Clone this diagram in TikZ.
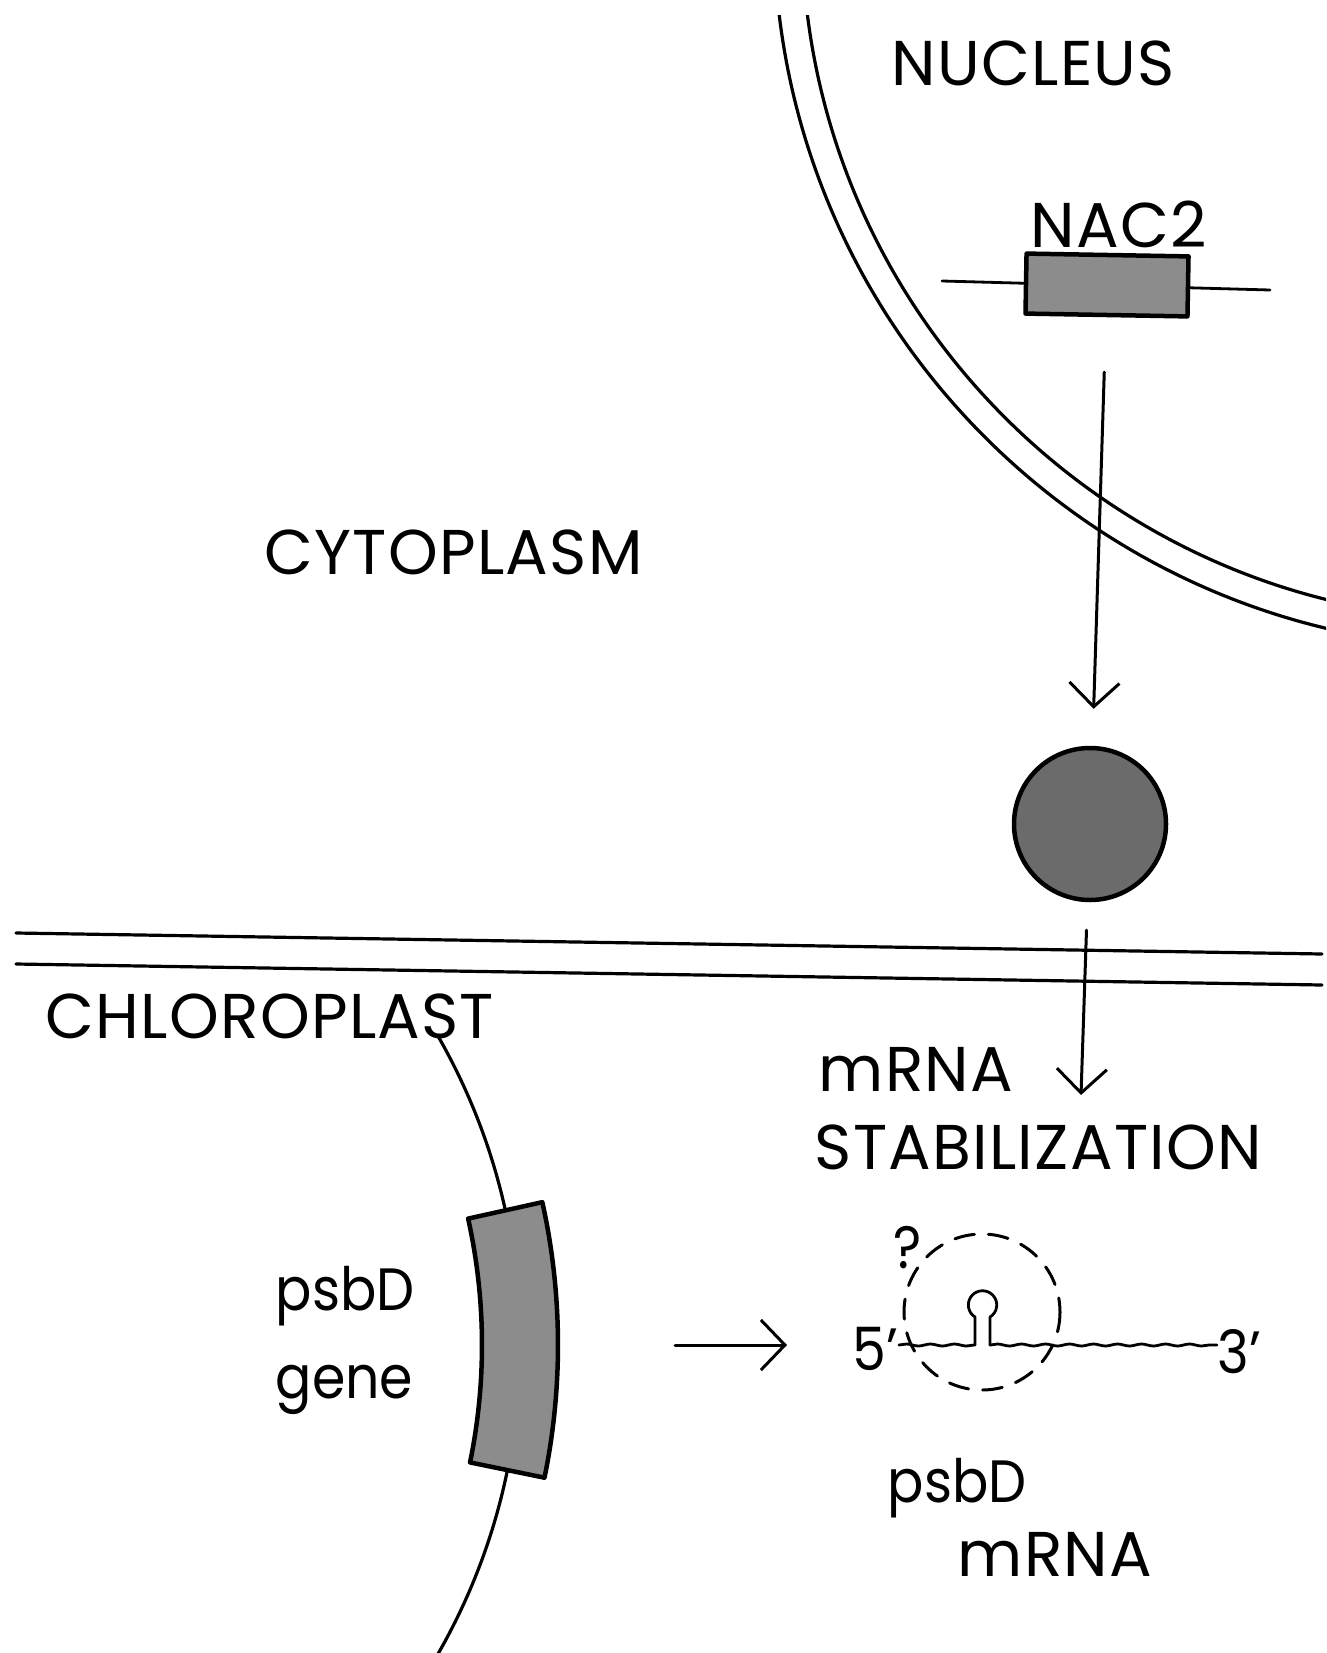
\documentclass[tikz,border=0pt]{standalone}
\usepackage{fontspec}
\setmainfont{Poppins}[FakeStretch=0.9]
\newfontfamily\capfont{Poppins}[LetterSpace=2]
\usetikzlibrary{arrows.meta,calc,decorations.pathmorphing}

\tikzset{
  lbl/.style={inner sep=0pt, anchor=base west, font=\capfont\fontsize{18}{20}\selectfont},
  sml/.style={inner sep=0pt, anchor=base west, font=\fontsize{17}{20}\selectfont},
  memb/.style={line width=0.32mm},
  genebox/.style={draw, line width=0.45mm, fill=black!45},
  arr/.style={line width=0.3mm, -{Straight Barb[length=2.4mm, width=5mm]}},
  rna/.style={line width=0.28mm, decorate, decoration={snake, amplitude=0.1mm, segment length=2.4mm}},
}

\begin{document}
\begin{tikzpicture}[x=0.1mm, y=-0.1mm, line cap=round, line join=round]
    \useasboundingbox (0,0) rectangle (1326,1653);

    % Nucleus envelope
    \coordinate (nuc) at (1494,-72);
    \begin{scope}
        \clip (0,16) rectangle (1326,1653);
        \draw[memb] (nuc) circle (720);
        \draw[memb] (nuc) circle (692);
    \end{scope}
    \node[lbl] (nucleus) at (891,86) {NUCLEUS};

    % NAC2 gene
    \coordinate (nacL) at (942,281);
    \coordinate (nacR) at (1270,290);
    \draw[line width=0.28mm] (nacL) -- (nacR);
    \node[genebox, minimum width=16.2mm, minimum height=6mm, inner sep=0pt, rotate=-1] (nac2) at (1107,285) {};
    \node[lbl] (nac2lbl) at (1030,248) {NAC2};

    % Cytoplasm and protein
    \node[lbl] (cyto) at (264,574) {CYTOPLASM};
    \node[genebox, circle, fill=black!58, minimum size=15.2mm, inner sep=0pt] (prot) at (1090,824) {};
    \draw[arr, shorten <=5.5mm, shorten >=3.7mm] (nac2) -- (prot);

    % Chloroplast envelope
    \draw[memb] (16,933) -- (1322,954);
    \draw[memb] (16,964) -- (1322,985);
    \node[lbl] (chloro) at (45,1038) {CHLOROPLAST};

    \node[lbl] (mrna) at (818,1091) {mRNA};
    \node[lbl] (stabil) at (814,1169) {STABILIZATION};
    \coordinate (stab) at (1081,1095);
    \draw[arr, shorten <=2.8mm] (prot) -- (stab);

    % Chloroplast genome with psbD
    \coordinate (chl) at (-102,1345);
    \begin{scope}
        \clip (0,1038) rectangle (1326,1653);
        \draw[memb] (chl) circle (622);
    \end{scope}
    \draw[genebox] ($(chl)+(-12.5:584)$) arc[start angle=-12.5, end angle=11.6, radius=584]
        -- ($(chl)+(11.6:660)$) arc[start angle=11.6, end angle=-12.5, radius=660] -- cycle;
    \coordinate (gene) at ($(chl)+(0:660)$);
    \node[sml] (psbd) at (275,1310) {psbD};
    \node[sml] (genelbl) at (275,1398) {gene};

    % psbD mRNA
    \node[sml] (five) at (852,1370) {5'};
    \node[sml] (three) at (1217,1373) {3'};
    \node[sml] (quest) at (893,1268) {?};
    \coordinate (stemL) at (975,1345);
    \coordinate (stemR) at (990,1345);
    \draw[arr, shorten <=11.7mm, shorten >=6.5mm] (gene) -- (gene -| five.west);
    \draw[rna] (five.east |- stemL) -- (stemL);
    \draw[line width=0.28mm] (stemL) -- ++(0,-28) arc[start angle=122, end angle=418, radius=14.2] -- (stemR);
    \draw[rna] (stemR) -- (three.west |- stemR);
    \draw[line width=0.3mm, dash pattern=on 2mm off 1.4mm] (982,1312) circle (78);
    \node[sml] (psbdm) at (887,1502) {psbD};
    \node[lbl] (mrnam) at (957,1576) {mRNA};
\end{tikzpicture}
\end{document}
